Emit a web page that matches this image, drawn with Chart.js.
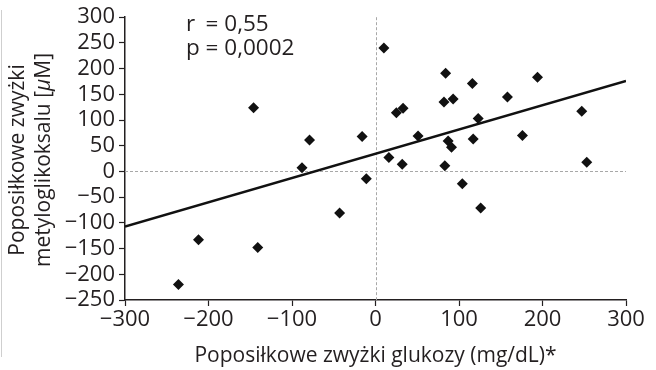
<!DOCTYPE html>
<html>
<head>
<meta charset="utf-8">
<script src="https://cdn.jsdelivr.net/npm/chart.js@4/dist/chart.umd.min.js"></script>
<style>
  html, body { margin: 0; padding: 0; background: #fff; }
  #wrap { width: 656px; height: 370px; }
</style>
</head>
<body>
<div id="wrap"><canvas id="scatter"></canvas></div>
<script>
// Glucose spikes (x, mg/dL) vs methylglyoxal spikes (y, µM)
const glucoseX = [10, 84, 116, 194, 158, 82, 93, 25, 33, 247, 123, -16, 51, 87, 91, 117, 176,
    16, 32, 83, 253, -11, 104, -43, 126, -146, -79, -88, -236, -212, -141];
const methylY = [240, 191, 171, 183, 145, 135, 141, 114, 123, 117, 103, 68, 69, 59, 47, 63, 70,
    27, 14, 11, 18, -14, -24, -81, -71, 124, 61, 7, -220, -133, -148];

// regression line end points
const trendX = [-300, 300];
const trendY = [-107, 176];

const xTicks = [-300, -200, -100, 0, 100, 200, 300];
const yTicks = [-250, -200, -150, -100, -50, 0, 50, 100, 150, 200, 250, 300];

const xTitle = 'Poposiłkowe zwyżki glukozy (mg/dL)*';
const yTitle = ['Poposiłkowe zwyżki', 'metyloglikoksalu [', 'μ', 'M]'];
const statR = '0,55';
const statP = '0,0002';

const FONT = '"Open Sans", "DejaVu Sans", sans-serif';
const INK = '#231f20';

const points = glucoseX.map((x, i) => ({ x: x, y: methylY[i] }));
const trend = trendX.map((x, i) => ({ x: x, y: trendY[i] }));

const minus = v => String(v).replace('-', '\u2212');

const decor = {
    id: 'decor',
    beforeDatasetsDraw(chart) {
        const ctx = chart.ctx;
        const area = chart.chartArea;
        const x0 = chart.scales.x.getPixelForValue(0);
        const y0 = chart.scales.y.getPixelForValue(0);
        ctx.save();
        ctx.strokeStyle = '#a8a8a8';
        ctx.lineWidth = 1;
        ctx.setLineDash([3, 2]);
        ctx.beginPath();
        ctx.moveTo(Math.round(x0) + 0.5, area.top);
        ctx.lineTo(Math.round(x0) + 0.5, area.bottom);
        ctx.moveTo(area.left, Math.round(y0) + 0.5);
        ctx.lineTo(area.right, Math.round(y0) + 0.5);
        ctx.stroke();
        ctx.restore();
    },
    afterDraw(chart) {
        const ctx = chart.ctx;
        const area = chart.chartArea;
        ctx.save();
        // faint frame line on the left edge
        ctx.strokeStyle = '#cfcfcf';
        ctx.lineWidth = 1;
        ctx.beginPath();
        ctx.moveTo(1.5, 10);
        ctx.lineTo(1.5, 357);
        ctx.stroke();

        ctx.fillStyle = INK;
        ctx.textBaseline = 'alphabetic';

        // x title
        ctx.font = '21px ' + FONT;
        ctx.textAlign = 'center';
        ctx.fillText(xTitle, (area.left + area.right) / 2, 362);

        // stats
        ctx.font = '22.5px ' + FONT;
        ctx.textAlign = 'left';
        const sx = 186;
        const gap = ctx.measureText('p ').width;
        ctx.fillText('r', sx, 31);
        ctx.fillText('= ' + statR, sx + gap, 31);
        ctx.fillText('p = ' + statP, sx, 55);

        // y title, two rotated lines
        ctx.font = '21px ' + FONT;
        const cy = 160;
        ctx.save();
        ctx.translate(24, cy);
        ctx.rotate(-Math.PI / 2);
        ctx.textAlign = 'center';
        ctx.fillText(yTitle[0], 0, 0);
        ctx.restore();

        ctx.save();
        ctx.translate(50, cy);
        ctx.rotate(-Math.PI / 2);
        ctx.textAlign = 'left';
        const a = yTitle[1], b = yTitle[2], c = yTitle[3];
        const wa = ctx.measureText(a).width;
        ctx.font = 'italic 21px ' + FONT;
        const wb = ctx.measureText(b).width;
        ctx.font = '21px ' + FONT;
        const wc = ctx.measureText(c).width;
        let px = -(wa + wb + wc) / 2;
        ctx.fillText(a, px, 0);
        px += wa;
        ctx.font = 'italic 21px ' + FONT;
        ctx.fillText(b, px, 0);
        px += wb;
        ctx.font = '21px ' + FONT;
        ctx.fillText(c, px, 0);
        ctx.restore();

        ctx.restore();
    }
};

new Chart(document.getElementById('scatter').getContext('2d'), {
    type: 'scatter',
    data: {
        datasets: [
            {
                label: 'pomiary',
                data: points,
                pointStyle: 'rectRot',
                pointRadius: 5.5,
                backgroundColor: '#111',
                borderColor: '#111',
                borderWidth: 0
            },
            {
                label: 'regresja',
                data: trend,
                showLine: true,
                pointRadius: 0,
                borderColor: '#111',
                borderWidth: 2.5,
                fill: false
            }
        ]
    },
    options: {
        responsive: true,
        maintainAspectRatio: false,
        animation: false,
        layout: { padding: { left: 0, top: 15, right: 30, bottom: 0 } },
        plugins: {
            legend: { display: false },
            tooltip: { enabled: false }
        },
        scales: {
            x: {
                type: 'linear',
                min: -300,
                max: 300,
                afterBuildTicks: s => { s.ticks = xTicks.map(v => ({ value: v })); },
                afterFit: s => { s.height = 70; },
                grid: { drawOnChartArea: false, drawTicks: true, tickLength: 6, tickColor: INK, tickWidth: 1.2 },
                border: { color: INK, width: 1.5 },
                ticks: {
                    color: INK,
                    font: { family: FONT, size: 22 },
                    padding: 1,
                    maxRotation: 0,
                    autoSkip: false,
                    callback: v => minus(v)
                }
            },
            y: {
                type: 'linear',
                min: -250,
                max: 300,
                afterBuildTicks: s => { s.ticks = yTicks.map(v => ({ value: v })); },
                afterFit: s => { s.width = 125; },
                grid: { drawOnChartArea: false, drawTicks: true, tickLength: 6, tickColor: INK, tickWidth: 1.2 },
                border: { color: INK, width: 1.5 },
                ticks: {
                    color: INK,
                    font: { family: FONT, size: 22 },
                    padding: 4,
                    autoSkip: false,
                    callback: v => minus(v)
                }
            }
        }
    },
    plugins: [decor]
});
</script>
</body>
</html>
